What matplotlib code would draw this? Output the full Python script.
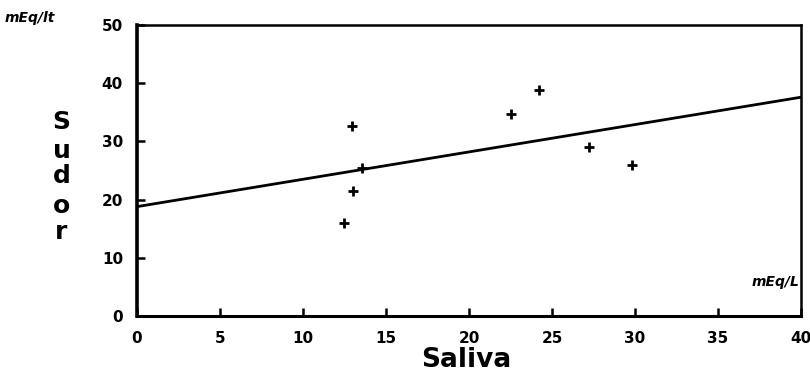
import numpy as np
import matplotlib
matplotlib.use("Agg")
import matplotlib.pyplot as plt

# sodium in saliva vs sweat (mEq/L)
saliva = [12.95, 13.55, 13.0, 12.47, 22.5, 24.2, 27.2, 29.8]
sudor = [32.6, 25.4, 21.5, 16.0, 34.7, 38.8, 29.0, 25.9]

# regression line
fit_intercept = 18.8
fit_slope = 0.47

x_ticks = [0, 5, 10, 15, 20, 25, 30, 35, 40]
y_ticks = [0, 10, 20, 30, 40, 50]
y_tick_labels = ["0", "10", "20", "30", "40", "50"]

plt.rcParams["font.family"] = ["DejaVu Sans"]
plt.rcParams["font.weight"] = "bold"

fig = plt.figure(figsize=(8.1, 3.79), dpi=100)
ax = fig.add_axes([0.169, 0.166, 0.820, 0.768])

ax.scatter(saliva, sudor, marker="+", s=60, c="black", linewidths=2.0, zorder=3)

x_line = np.array([0, 40])
ax.plot(x_line, fit_intercept + fit_slope * x_line, color="black", lw=2.0)

ax.set_xlim(0, 40)
ax.set_ylim(0, 50)
ax.set_xticks(x_ticks)
ax.set_yticks(y_ticks)
ax.set_yticklabels(y_tick_labels)
ax.tick_params(direction="in", length=6, width=1.8, labelsize=11, pad=10)
ax.tick_params(axis="x", pad=11)
for lbl in ax.get_xticklabels() + ax.get_yticklabels():
    lbl.set_fontweight("heavy")

ax.spines["left"].set_linewidth(2.6)
ax.spines["bottom"].set_linewidth(2.2)
ax.spines["top"].set_linewidth(1.8)
ax.spines["right"].set_linewidth(1.8)

# labels
fig.text(0.576, 0.05, "Saliva", ha="center", va="center",
         fontsize=19, fontweight="heavy")
letter_y = [122, 151, 176, 206, 232]
for ch, py in zip("Sudor", letter_y):
    fig.text(0.076, 1 - py / 379, ch, ha="center", va="center",
             fontsize=18, fontweight="heavy")
fig.text(0.006, 0.952, "mEq/lt", ha="left", va="center",
         fontsize=10, style="italic", fontweight="heavy")
ax.text(39.9, 5.8, "mEq/L", ha="right", va="center",
        fontsize=10, style="italic", fontweight="heavy")

fig.savefig("out.png", dpi=100)
